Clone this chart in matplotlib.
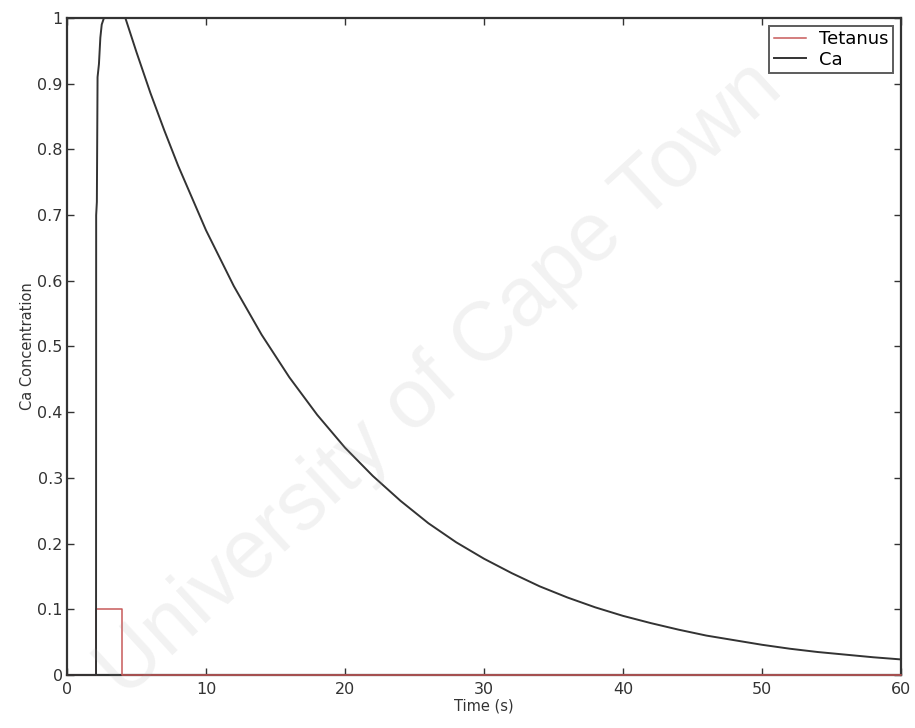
import matplotlib
matplotlib.use("Agg")
import matplotlib.pyplot as plt

# Tetanus stimulus (step)
tet_time = [0, 2.09, 2.09, 3.96, 3.96, 60]
tet_vals = [0, 0, 0.1, 0.1, 0, 0]

# Ca concentration
ca_time = [0, 2.09, 2.10, 2.15, 2.2, 2.3, 2.4, 2.5, 2.66, 4.2, 5, 6, 7, 8, 10, 12, 14, 16, 18, 20,
           22, 24, 26, 28, 30, 32, 34, 36, 38, 40, 42, 44, 46, 48, 50, 52, 54, 56, 58, 60]
ca_vals = [0, 0, 0.70, 0.72, 0.91, 0.93, 0.97, 0.99, 1.0, 1.0, 0.948, 0.886, 0.829, 0.775, 0.677,
           0.592, 0.518, 0.453, 0.396, 0.346, 0.303, 0.265, 0.231, 0.202, 0.177, 0.155, 0.135,
           0.118, 0.103, 0.090, 0.079, 0.069, 0.060, 0.053, 0.046, 0.040, 0.035, 0.031, 0.027, 0.0237]

xticks = [0, 10, 20, 30, 40, 50, 60]
yticks = [0, 0.1, 0.2, 0.3, 0.4, 0.5, 0.6, 0.7, 0.8, 0.9, 1]
ytick_labels = ["0", "0.1", "0.2", "0.3", "0.4", "0.5", "0.6", "0.7", "0.8", "0.9", "1"]

plt.rcParams['font.family'] = ['DejaVu Sans']

fig = plt.figure(figsize=(9.15, 7.28), dpi=100)
ax = fig.add_axes([0.0732, 0.0728, 0.9115, 0.9025])

ax.plot(tet_time, tet_vals, color="#c85a5a", lw=1.1, label="Tetanus", clip_on=False, zorder=3)
ax.plot(ca_time, ca_vals, color="#333333", lw=1.4, label="Ca", clip_on=False, zorder=4)

ax.set_xlim(0, 60)
ax.set_ylim(0, 1)
ax.set_xticks(xticks)
ax.set_xticklabels([str(v) for v in xticks])
ax.set_yticks(yticks)
ax.set_yticklabels(ytick_labels)
ax.tick_params(direction="in", top=True, right=True, length=5, width=1,
               colors="#333333")
ax.tick_params(axis="x", labelsize=11.5, pad=5)
ax.tick_params(axis="y", labelsize=11.5, pad=3)
for s in ax.spines.values():
    s.set_color("#333333")
    s.set_linewidth(1.6)
    s.set_zorder(2)

ax.set_xlabel("Time (s)", fontsize=10.5, color="#333333", labelpad=1)
ax.set_ylabel("Ca Concentration", fontsize=10.5, color="#333333", labelpad=2)

leg = ax.legend(loc="upper right", bbox_to_anchor=(0.990, 0.988), fontsize=13,
                frameon=True, fancybox=False, borderpad=0.25, handlelength=1.8,
                handletextpad=0.7, labelspacing=0.12, borderaxespad=0.0)
leg.get_frame().set_edgecolor("#333333")
leg.get_frame().set_linewidth(1.4)
leg.set_zorder(5)

# watermark
fig.text(0.481, 0.478, "University of Cape Town", fontsize=60, color="#9a9a9a",
         alpha=0.13, rotation=42.6, ha="center", va="center", zorder=10,
         family="Liberation Sans")

fig.savefig("out.png", dpi=100)
